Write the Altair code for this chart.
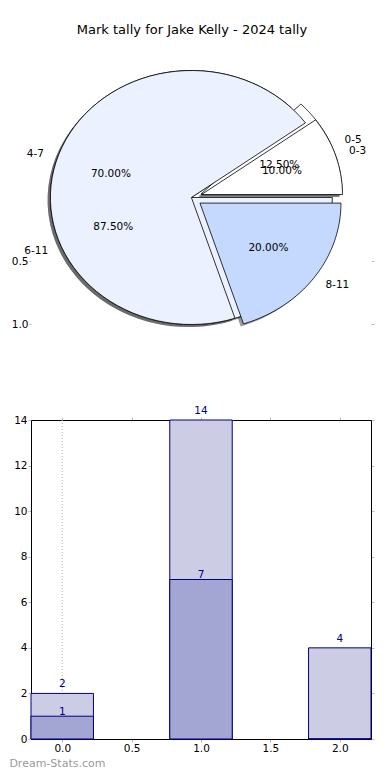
import altair as alt
import pandas as pd

# ---------------- data ----------------
title_text = "Mark tally for Jake Kelly - 2024 tally"

pie1_labels = ["0-5", "6-11"]
pie1_values = [1, 7]
pie1_explode = [0.075, 0.0]
pie1_colors = ["#FFFFFF", "#EBF1FE"]

pie2_labels = ["0-3", "4-7", "8-11"]
pie2_values = [2, 14, 4]
pie2_explode = [0.075, 0.0, 0.075]
pie2_colors = ["#FFFFFF", "#EBF1FE", "#C5D9FF"]

pie_axis_ticks = [0.5, 1.0]

bar_positions = [0.0, 1.0, 2.0]
bar_series1 = [2, 14, 4]
bar_series2 = [1, 7, 0]
bar_y_ticks = [0, 2, 4, 6, 8, 10, 12, 14]
bar_x_ticks = [0.0, 0.5, 1.0, 1.5, 2.0]
ref_line_x = [0.0]
watermark = "Dream-Stats.com"

# ---------------- layout ----------------
PLOT_LEFT = 29.6      # page x of plot area left edge
W = 340
PIE_TOP = 48.0
PIE_H = 312
PIE_CX, PIE_CY = 190.0, 198.5
RX, RY = 141.0, 127.0
BAR_TOP = 421.0
BAR_H = 319
BAR_HALF = 0.225
N = 72
FONT = "DejaVu Sans"
NAVY = "#000080"

pie_xs = alt.Scale(domain=[(PLOT_LEFT - PIE_CX) / RX, (PLOT_LEFT + W - PIE_CX) / RX], nice=False, zero=False)
pie_ys = alt.Scale(domain=[(PIE_TOP - PIE_CY) / RY, (PIE_TOP + PIE_H - PIE_CY) / RY], nice=False, zero=False, reverse=True)

rows = []
for pie, labels, values, explode, colors in (
    ("A", pie1_labels, pie1_values, pie1_explode, pie1_colors),
    ("B", pie2_labels, pie2_values, pie2_explode, pie2_colors),
):
    for i, (lab, v, e, c) in enumerate(zip(labels, values, explode, colors)):
        rows.append(dict(pie=pie, order=i, sid=f"{pie}{i}", label=lab, value=v, explode=e, color=c))
pie_df = pd.DataFrame(rows)


def pie_base():
    return (
        alt.Chart(pie_df)
        .transform_joinaggregate(total="sum(value)", groupby=["pie"])
        .transform_window(cum="sum(value)", sort=[alt.SortField("order")], groupby=["pie"])
        .transform_calculate(
            a0="2*PI*(datum.cum - datum.value)/datum.total",
            a1="2*PI*datum.cum/datum.total",
        )
        .transform_calculate(mid="(datum.a0 + datum.a1)/2")
        .transform_calculate(
            ox="datum.explode*cos(datum.mid)",
            oy="-datum.explode*sin(datum.mid)",
        )
    )


def wedge_points(base, sx, sy):
    return (
        base.transform_calculate(k=f"sequence(0, {N + 2})")
        .transform_flatten(["k"])
        .transform_calculate(
            ang=f"datum.a0 + (datum.a1 - datum.a0)*clamp(datum.k - 1, 0, {N - 1})/{N - 1}",
            rr=f"(datum.k == 0 || datum.k == {N + 1}) ? 0 : 1",
        )
        .transform_calculate(
            px=f"datum.ox + datum.rr*cos(datum.ang) + ({sx})",
            py=f"datum.oy - datum.rr*sin(datum.ang) + ({sy})",
        )
    )


shadow = (
    wedge_points(pie_base(), -0.02, 0.02)
    .mark_line(fill="#3a3a3a", fillOpacity=0.5, strokeOpacity=0)
    .encode(
        x=alt.X("px:Q", scale=pie_xs, axis=None),
        y=alt.Y("py:Q", scale=pie_ys, axis=alt.Axis(
            values=pie_axis_ticks, format=".1f", title=None, orient="left",
            domain=False, grid=False, tickSize=2, tickColor="#bbbbbb",
            labelFont=FONT, labelFontSize=10.5, labelColor="black", labelPadding=1)),
        detail="sid:N",
        order=alt.Order("k:Q"),
    )
)


def wedge_layer(pie, yaxis):
    return (
        wedge_points(pie_base().transform_filter(f"datum.pie == '{pie}'"), 0, 0)
        .mark_line(stroke="black", strokeWidth=0.8, strokeJoin="miter")
        .encode(
            x=alt.X("px:Q", scale=pie_xs, axis=None),
            y=alt.Y("py:Q", scale=pie_ys, axis=yaxis),
            fill=alt.Fill("color:N", scale=None),
            detail="sid:N",
            order=alt.Order("k:Q"),
        )
    )


wedges_a = wedge_layer("A", alt.Axis(
    values=pie_axis_ticks, title=None, orient="right", labels=False,
    domain=False, grid=False, tickSize=3, tickColor="#bbbbbb"))
wedges_b = wedge_layer("B", None)

label_base = pie_base().transform_calculate(
    lx="(1.1 + datum.explode)*cos(datum.mid)",
    ly="-(1.1 + datum.explode)*sin(datum.mid)",
    tx="(0.6 + datum.explode)*cos(datum.mid)",
    ty="-(0.6 + datum.explode)*sin(datum.mid)",
    pct="format(100*datum.value/datum.total, '.2f') + '%'",
)

labels_right = label_base.transform_filter("cos(datum.mid) >= 0").mark_text(
    align="left", baseline="middle", font=FONT, fontSize=10.5, color="black"
).encode(
    x=alt.X("lx:Q", scale=pie_xs, axis=None),
    y=alt.Y("ly:Q", scale=pie_ys, axis=None),
    text="label:N",
)
labels_left = label_base.transform_filter("cos(datum.mid) < 0").mark_text(
    align="right", baseline="middle", font=FONT, fontSize=10.5, color="black"
).encode(
    x=alt.X("lx:Q", scale=pie_xs, axis=None),
    y=alt.Y("ly:Q", scale=pie_ys, axis=None),
    text="label:N",
)
pct_text = label_base.mark_text(
    align="center", baseline="middle", font=FONT, fontSize=10.5, color="black"
).encode(
    x=alt.X("tx:Q", scale=pie_xs, axis=None),
    y=alt.Y("ty:Q", scale=pie_ys, axis=None),
    text="pct:N",
)

pie_chart = (
    alt.layer(shadow, wedges_a, wedges_b, labels_right, labels_left, pct_text)
    .resolve_axis(y="independent")
    .properties(width=W, height=PIE_H, view=alt.ViewBackground(strokeOpacity=0))
)

# ---------------- bar panel ----------------
bar_df = pd.DataFrame({"pos": bar_positions, "s1": bar_series1, "s2": bar_series2})
ref_df = pd.DataFrame({"x": ref_line_x})
wm_df = pd.DataFrame({"t": [watermark]})

bx = alt.Scale(domain=[-BAR_HALF, 2 + BAR_HALF], nice=False, zero=False)
by = alt.Scale(domain=[0, 14], nice=False)

bar_base = alt.Chart(bar_df).transform_calculate(
    x0=f"datum.pos - {BAR_HALF}", x1=f"datum.pos + {BAR_HALF}"
)

ref_rule = alt.Chart(ref_df).mark_rule(color="#b0b0b0", strokeDash=[1, 2], strokeWidth=1).encode(
    x=alt.X("x:Q", scale=bx, axis=None)
)

bars1 = bar_base.mark_bar(fill="#CCCCE5", stroke=NAVY, strokeWidth=1).encode(
    x=alt.X("x0:Q", scale=bx, axis=alt.Axis(
        values=bar_x_ticks, format=".1f", title=None, orient="bottom", grid=False,
        tickSize=3, tickColor="#bbbbbb", domainColor="black", labelFont=FONT,
        labelFontSize=10.5, labelColor="black", labelPadding=1)),
    x2="x1:Q",
    y=alt.Y("s1:Q", scale=by, axis=alt.Axis(
        values=bar_y_ticks, title=None, orient="left", grid=False,
        tickSize=3, tickColor="#bbbbbb", domainColor="black", labelFont=FONT,
        labelFontSize=10.5, labelColor="black", labelPadding=1)),
    y2=alt.datum(0),
)
bars2 = bar_base.mark_bar(fill="#A3A5D3", stroke=NAVY, strokeWidth=1).encode(
    x=alt.X("x0:Q", scale=bx, axis=alt.Axis(
        values=bar_x_ticks, title=None, orient="top", labels=False, grid=False,
        tickSize=3, tickColor="#bbbbbb", domainColor="black")),
    x2="x1:Q",
    y=alt.Y("s2:Q", scale=by, axis=alt.Axis(
        values=bar_y_ticks, title=None, orient="right", labels=False, grid=False,
        tickSize=3, tickColor="#bbbbbb", domainColor="black")),
    y2=alt.datum(0),
)
text1 = bar_base.mark_text(baseline="middle", dy=-9, font=FONT, fontSize=10.5, color=NAVY).encode(
    x=alt.X("pos:Q", scale=bx, axis=None),
    y=alt.Y("s1:Q", scale=by, axis=None),
    text="s1:Q",
)
text2 = bar_base.transform_filter("datum.s2 > 0").mark_text(
    baseline="middle", dy=-4.5, font=FONT, fontSize=10.5, color=NAVY
).encode(
    x=alt.X("pos:Q", scale=bx, axis=None),
    y=alt.Y("s2:Q", scale=by, axis=None),
    text="s2:Q",
)
wm = alt.Chart(wm_df).mark_text(
    align="left", baseline="middle", font=FONT, fontSize=11, color="#9a9a9a"
).encode(
    text="t:N",
    x=alt.value(8 - PLOT_LEFT),
    y=alt.value(765 - BAR_TOP),
)

bar_chart = (
    alt.layer(ref_rule, bars1, bars2, text1, text2, wm)
    .resolve_axis(x="independent", y="independent")
    .properties(width=W, height=BAR_H, view=alt.ViewBackground(stroke="black", strokeWidth=1))
)

chart = (
    alt.vconcat(pie_chart, bar_chart, spacing=BAR_TOP - PIE_TOP - PIE_H, bounds="flush")
    .properties(
        title=alt.TitleParams(title_text, font=FONT, fontSize=13, fontWeight="normal",
                              color="black", anchor="middle", offset=10),
        padding={"left": 0, "top": 16, "right": 4, "bottom": 0},
        background="white",
    )
    .configure_view(stroke="black")
)

chart.save("out.html", embed_options={"renderer": "svg", "actions": False})
